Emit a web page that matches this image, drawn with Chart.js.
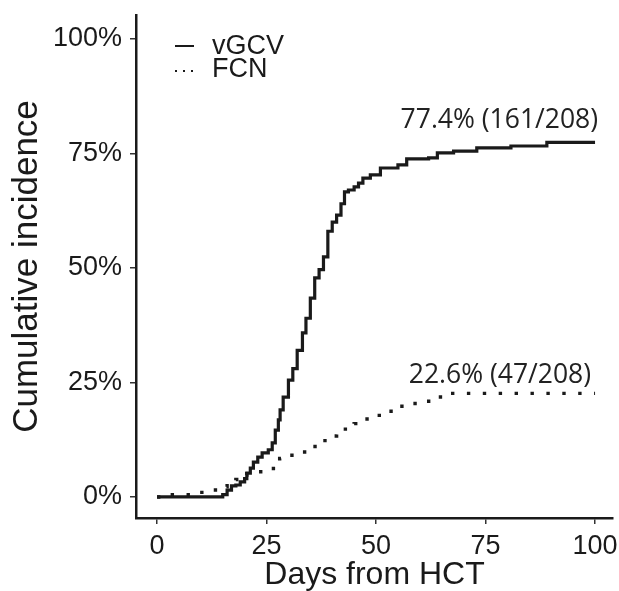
<!DOCTYPE html>
<html>
<head>
<meta charset="utf-8">
<script src="https://cdn.jsdelivr.net/npm/chart.js@4.4.1/dist/chart.umd.min.js"></script>
<style>
  html, body { margin: 0; padding: 0; background: #fff; }
  canvas { display: block; }
</style>
</head>
<body>
<canvas id="cumChart" width="619" height="591"></canvas>
<script>
// dados (dia do evento, incidência acumulada em %)
const vgcvDays = [0, 15, 16, 17, 18, 19, 20, 20.5, 21.3, 22, 23, 24, 25.4, 26.3, 27, 27.7, 28.1, 28.8, 30, 31, 32, 33.2, 34, 35, 36, 37, 38, 39, 40, 41, 42, 42.8, 43.7, 45, 46, 47, 48.7, 51, 55, 57, 62, 64, 67.7, 73, 80.8, 89, 100];
const vgcvPct = [0, 0.5, 1.5, 2.4, 2.6, 3.3, 4.0, 5.2, 6.3, 7.6, 8.7, 9.6, 10.3, 11.8, 14.6, 16.8, 19.0, 21.8, 25.5, 28, 32, 35.8, 39, 43.4, 47.8, 49.6, 52.4, 58, 60, 61.5, 64, 66.6, 67, 67.7, 68.5, 69.6, 70.3, 71.8, 72.5, 73.8, 74, 75.1, 75.5, 76.2, 76.6, 77.4, 77.4];

const fcnDays = [0, 3, 9, 12, 14, 16, 18, 19.5, 20.5, 25, 27, 28, 30, 33, 35, 37, 39, 41, 43, 45, 47.5, 50, 53, 55.5, 58, 61, 64, 66, 100];
const fcnPct = [0, 0.5, 1, 1.5, 2.2, 2.9, 3.8, 4.8, 5.5, 6.2, 7.2, 8.4, 9.1, 9.8, 11, 12.3, 13.3, 14.2, 15.2, 16, 17, 17.8, 18.7, 19.8, 20.4, 20.9, 21.8, 22.6, 22.6];

const seriesNames = ["vGCV", "FCN"];
const endLabels = ["77.4% (161/208)", "22.6% (47/208)"];
const xTicks = [0, 25, 50, 75, 100];
const yTicks = [0, 25, 50, 75, 100];

function toPoints(xs, ys) {
  return xs.map((x, i) => ({ x: x, y: ys[i] }));
}

// legenda e rótulos finais desenhados à mão
const extras = {
  id: "extras",
  afterDatasetsDraw(chart) {
    const ctx = chart.ctx;
    const xs = chart.scales.x;
    const ys = chart.scales.y;
    ctx.save();

    // rótulos no fim das curvas
    ctx.fillStyle = "#222";
    ctx.font = '26.5px "Open Sans", sans-serif';
    ctx.textAlign = "right";
    ctx.textBaseline = "alphabetic";
    ctx.fillText(endLabels[0], xs.getPixelForValue(100) + 3, ys.getPixelForValue(vgcvPct[vgcvPct.length - 1]) - 14);
    ctx.fillText(endLabels[1], xs.getPixelForValue(100) - 4, ys.getPixelForValue(fcnPct[fcnPct.length - 1]) - 10);

    // legenda
    ctx.strokeStyle = "#1a1a1a";
    ctx.lineWidth = 2;
    ctx.beginPath();
    ctx.moveTo(175, 46);
    ctx.lineTo(194, 46);
    ctx.stroke();
    ctx.setLineDash([2, 6]);
    ctx.beginPath();
    ctx.moveTo(175, 71);
    ctx.lineTo(195, 71);
    ctx.stroke();
    ctx.setLineDash([]);

    ctx.fillStyle = "#1a1a1a";
    ctx.font = '27px "Liberation Sans", Arial, sans-serif';
    ctx.textAlign = "left";
    ctx.textBaseline = "middle";
    ctx.fillText(seriesNames[0], 212, 47);
    ctx.fillText(seriesNames[1], 212, 70);
    ctx.restore();
  }
};

const ctx = document.getElementById("cumChart").getContext("2d");
const chart = new Chart(ctx, {
  type: "line",
  data: {
    datasets: [
      {
        label: seriesNames[0],
        data: toPoints(vgcvDays, vgcvPct),
        stepped: true,
        borderColor: "#1a1a1a",
        borderWidth: 3.2,
        pointRadius: 0,
        fill: false
      },
      {
        label: seriesNames[1],
        data: toPoints(fcnDays, fcnPct),
        stepped: true,
        borderColor: "#1a1a1a",
        borderWidth: 3.4,
        borderDash: [3.4, 12.5],
        borderCapStyle: "butt",
        pointRadius: 0,
        fill: false
      }
    ]
  },
  options: {
    responsive: false,
    devicePixelRatio: 1,
    animation: false,
    layout: { padding: { top: 15, right: 6, left: 0, bottom: 0 } },
    plugins: {
      legend: { display: false },
      tooltip: { enabled: false }
    },
    scales: {
      x: {
        type: "linear",
        min: -4.8,
        max: 104.1,
        afterBuildTicks: s => { s.ticks = xTicks.map(v => ({ value: v })); },
        afterFit: s => { s.height = 73; s.paddingLeft = 0; s.paddingRight = 0; },
        grid: { drawOnChartArea: false, drawTicks: true, tickLength: 6, color: "#333", lineWidth: 1.5 },
        border: { display: true, color: "#1a1a1a", width: 2.5 },
        ticks: {
          color: "#1a1a1a",
          padding: 6,
          maxRotation: 0,
          font: { family: '"Liberation Sans", Arial, sans-serif', size: 27 }
        },
        title: {
          display: true,
          text: "Days from HCT",
          color: "#1a1a1a",
          padding: { top: 0, bottom: -3 },
          font: { family: '"Liberation Sans", Arial, sans-serif', size: 32 }
        }
      },
      y: {
        min: -4.6,
        max: 105.2,
        afterBuildTicks: s => { s.ticks = yTicks.map(v => ({ value: v })); },
        afterFit: s => { s.width = 136; s.paddingTop = 0; s.paddingBottom = 0; },
        grid: { drawOnChartArea: false, drawTicks: true, tickLength: 6, color: "#333", lineWidth: 1.5 },
        border: { display: true, color: "#1a1a1a", width: 2.5 },
        ticks: {
          color: "#1a1a1a",
          padding: 8,
          font: { family: '"Liberation Sans", Arial, sans-serif', size: 27 },
          callback: v => v + "%"
        },
        title: {
          display: true,
          text: "Cumulative incidence",
          color: "#1a1a1a",
          padding: { top: 6, bottom: 0 },
          font: { family: '"Liberation Sans", Arial, sans-serif', size: 35 }
        }
      }
    }
  },
  plugins: [extras]
});
</script>
</body>
</html>
